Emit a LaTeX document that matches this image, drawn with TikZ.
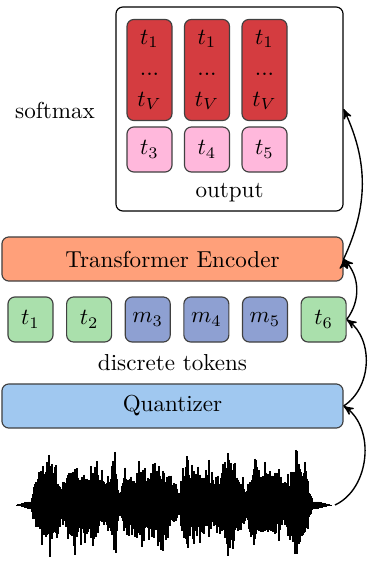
\documentclass[tikz,border=0pt]{standalone}
\usepackage{amsmath}
\usetikzlibrary{positioning,arrows}
\definecolor{probred}{RGB}{212,60,64}
\definecolor{tokpink}{RGB}{255,184,220}
\definecolor{tokgreen}{RGB}{170,224,172}
\definecolor{tokblue}{RGB}{142,160,210}
\definecolor{encorange}{RGB}{255,160,122}
\definecolor{quantblue}{RGB}{160,200,240}
\tikzset{
  box/.style={draw=black!75,rounded corners=3pt,line width=0.5pt,inner sep=0pt},
  token/.style={box,minimum width=19.5pt,minimum height=19.5pt},
  bar/.style={box,minimum width=147.8pt,minimum height=19.1pt},
  flow/.style={draw,->,>=stealth',line width=0.6pt}
}

\begin{document}
\begin{tikzpicture}[x=0.4333pt,y=-0.4333pt]
  \useasboundingbox (0,0) rectangle (367,565);

  % output block
  \node(out)[box,draw=black,fill=white,minimum width=98.4pt,minimum height=88.4pt] at (229.5,109) {};
  \foreach \i/\k in {0/3,1/4,2/5}{
    \node(p\k)[box,fill=probred,minimum width=19.5pt,minimum height=43.8pt,align=center]
      at (149.5+57.5*\i,70) {$t_1$\\[1.5pt]...\\[1.5pt]$t_V$};
    \node(o\k)[token,fill=tokpink] at (149.5+57.5*\i,149.5) {$t_\k$};
  }
  \node(outlabel) at (229.5,193) {output};
  \node(softmax) at (55,110) {softmax};

  \node(enc)[bar,fill=encorange] at (172.5,259) {Transformer Encoder};

  % tokens
  \node(t1)[token,fill=tokgreen] at (30.5,319.5) {$t_1$};
  \node(t2)[token,fill=tokgreen,right=5.4pt of t1] {$t_2$};
  \node(m3)[token,fill=tokblue,right=5.4pt of t2] {$m_3$};
  \node(m4)[token,fill=tokblue,right=5.4pt of m3] {$m_4$};
  \node(m5)[token,fill=tokblue,right=5.4pt of m4] {$m_5$};
  \node(t6)[token,fill=tokgreen,right=5.4pt of m5] {$t_6$};
  \node(tokens) at (172.5,363) {discrete tokens};

  \node(quant)[bar,fill=quantblue] at (172.5,406) {Quantizer};

  % waveform
  \pgfmathsetseed{5}
  \foreach \x in {17,18,...,331}{
    \pgfmathsetmacro\tail{3.5*min(1,(\x-16)/12)*min(1,(332-\x)/14)}
    \pgfmathsetmacro\taper{min(1,max(0,(\x-31)/6))*min(1,max(0,(313-\x)/8))}
    \pgfmathsetmacro\dip{1-0.8*exp(-((\x-120)/3)*((\x-120)/3))-0.7*exp(-((\x-179)/3)*((\x-179)/3))-0.55*exp(-((\x-247)/3)*((\x-247)/3))}
    \pgfmathsetmacro\slow{0.72+0.28*sin(\x*13)*cos(\x*3.1)}
    \pgfmathsetmacro\r{rnd}
    \pgfmathsetmacro\s{rnd}
    \pgfmathsetmacro\up{\tail+62*\taper*\dip*\slow*(0.36+0.24*rnd+0.4*\r*\r*\r)}
    \pgfmathsetmacro\dn{\tail+56*\taper*\dip*\slow*(0.36+0.24*rnd+0.4*\s*\s*\s)}
    \draw[line width=0.6pt] (\x,505-\up) -- (\x,505+\dn);
  }
  \coordinate(wave) at (335,505);

  \path[flow]
    (wave) edge[bend right=60] (quant.east)
    (quant.east) edge[bend right=55] (t6.east)
    (t6.east) edge[bend right=40] (enc.east)
    (enc.east) edge[bend right=25] (out.east);
\end{tikzpicture}
\end{document}
